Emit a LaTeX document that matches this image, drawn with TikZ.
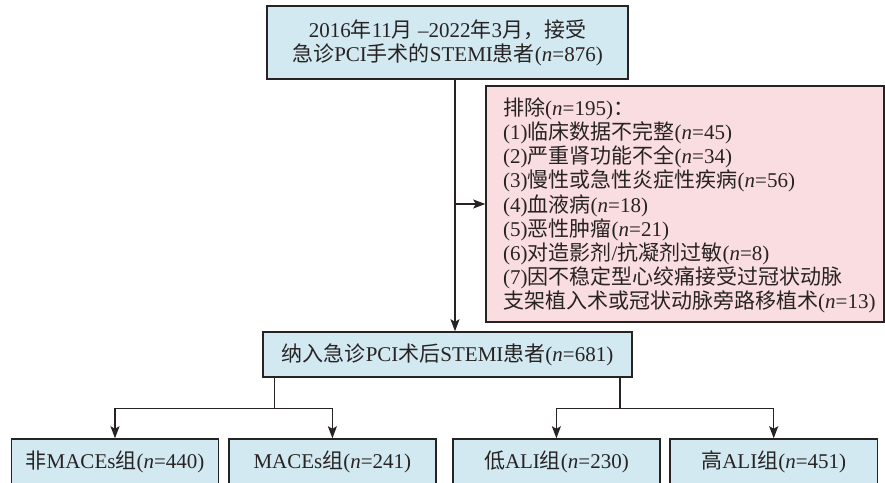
\documentclass[tikz,border=0pt]{standalone}
\usepackage{fontspec}
\setmainfont{Liberation Serif}
\newfontfamily\cjk{Noto Sans CJK SC}
\usetikzlibrary{arrows.meta}
\newcommand\zh[1]{{\cjk #1}}
\newcommand\nv{\textit{n}}
\definecolor{boxblue}{RGB}{210,233,242}
\definecolor{boxpink}{RGB}{250,221,224}
\definecolor{ink}{RGB}{40,35,35}
\begin{document}
\begin{tikzpicture}[x=1pt,y=-1pt,
  every node/.style={font=\fontsize{21}{24.2}\selectfont, text=ink},
  bluebox/.style={draw=ink, line width=1.5pt, fill=boxblue, inner sep=0pt, align=center},
  pinkbox/.style={draw=ink, line width=1.5pt, fill=boxpink, inner sep=0pt},
  link/.style={draw=ink, line width=1.4pt},
  arr/.style={link, -{Stealth[length=12pt,width=9pt,inset=2.5pt]}}]
\useasboundingbox (0,0) rectangle (885,482);
\clip (0,0) rectangle (885,482);
\fill[white] (0,0) rectangle (885,482);
% boxes
\node[bluebox, minimum width=361, minimum height=73] (top) at (447.5,42.5)
  {2016\zh{年}11\zh{月} –2022\zh{年}3\zh{月，接受}\\\zh{急诊}PCI\zh{手术的}STEMI\zh{患者}(\nv=876)};
\node[pinkbox, minimum width=398, minimum height=236] (excl) at (685,204) {};
\node[anchor=west, align=left, inner sep=0pt] (excltext) at (503,205.5)
  {\zh{排除}(\nv=195)\zh{：}\\
   (1)\zh{临床数据不完整}(\nv=45)\\
   (2)\zh{严重肾功能不全}(\nv=34)\\
   (3)\zh{慢性或急性炎症性疾病}(\nv=56)\\
   (4)\zh{血液病}(\nv=18)\\
   (5)\zh{恶性肿瘤}(\nv=21)\\
   (6)\zh{对造影剂}/\zh{抗凝剂过敏}(\nv=8)\\
   (7)\zh{因不稳定型心绞痛接受过冠状动脉}\\
   \zh{支架植入术或冠状动脉旁路移植术}(\nv=13)};
\node[bluebox, minimum width=369, minimum height=45] (mid) at (447.5,354.5)
  {\zh{纳入急诊}PCI\zh{术后}STEMI\zh{患者}(\nv=681)};
\node[bluebox, minimum width=206.6, minimum height=46] (b1) at (115,462)
  {\zh{非}MACEs\zh{组}(\nv=440)};
\node[bluebox, minimum width=207.3, minimum height=46] (b2) at (332.4,462)
  {MACEs\zh{组}(\nv=241)};
\node[bluebox, minimum width=207.3, minimum height=46] (b3) at (556.4,462)
  {\zh{低}ALI\zh{组}(\nv=230)};
\node[bluebox, minimum width=207.3, minimum height=46] (b4) at (773.7,462)
  {\zh{高}ALI\zh{组}(\nv=451)};
% connector helpers
\coordinate (vx) at (455,0);
\coordinate (bl) at (274.3,408.3);
\coordinate (br) at (620,408.3);
% connectors
\draw[arr] (top.south -| vx) -- (mid.north -| vx);
\draw[arr] (vx |- excl) -- (excl.west);
\draw[link] (mid.south -| bl) -- (bl);
\draw[arr] (bl) -| (b1.north);
\draw[arr] (bl) -| (b2.north);
\draw[link] (mid.south -| br) -- (br);
\draw[arr] (br) -| (b3.north);
\draw[arr] (br) -| (b4.north);
\end{tikzpicture}
\end{document}
